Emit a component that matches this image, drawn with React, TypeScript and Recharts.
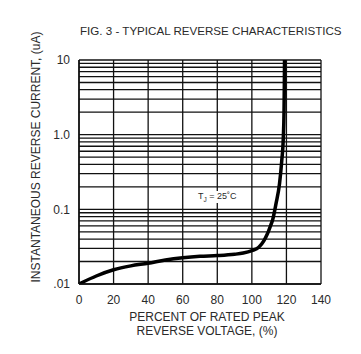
import { CartesianGrid, Line, LineChart, XAxis, YAxis } from "recharts";

// Percent of rated peak reverse voltage (x) vs reverse current in uA (y, log).
const VOLTAGE_PCT = [
  0, 10, 20, 30, 40, 50, 60, 70, 80, 90, 95, 100, 104, 107, 109, 111, 112,
  114, 116, 117.3, 118.2, 118.6, 118.8, 118.9,
];
const REVERSE_UA = [
  0.01, 0.0128, 0.0155, 0.0175, 0.019, 0.021, 0.0225, 0.0235, 0.024, 0.025,
  0.026, 0.028, 0.031, 0.038, 0.047, 0.062, 0.072, 0.12, 0.22, 0.45, 0.92, 2,
  5, 10,
];

const X_TICKS = [0, 20, 40, 60, 80, 100, 120, 140];
// log grid: 1..9 in every decade
const Y_TICKS = [
  0.01, 0.02, 0.03, 0.04, 0.05, 0.06, 0.07, 0.08, 0.09,
  0.1, 0.2, 0.3, 0.4, 0.5, 0.6, 0.7, 0.8, 0.9,
  1, 2, 3, 4, 5, 6, 7, 8, 9, 10,
];
const Y_LABELS: Record<string, string> = {
  "0.01": ".01",
  "0.1": "0.1",
  "1": "1.0",
  "10": "10",
};

const FONT = "'Liberation Sans', Arial, sans-serif";
const INK = "#2a2a2a";

const data = VOLTAGE_PCT.map((v, i) => ({ v, ir: REVERSE_UA[i] }));

export default function App() {
  return (
    <div
      style={{
        position: "absolute",
        left: 0,
        top: 0,
        width: 361,
        height: 354,
        background: "#fff",
        fontFamily: FONT,
        color: INK,
      }}
    >
      <div
        style={{
          position: "absolute",
          left: 80,
          top: 24,
          fontSize: 11.6,
          whiteSpace: "nowrap",
        }}
      >
        FIG. 3 - TYPICAL REVERSE CHARACTERISTICS
      </div>

      <div
        style={{
          position: "absolute",
          left: 36,
          top: 157,
          fontSize: 12,
          whiteSpace: "nowrap",
          transform: "translate(-50%, -50%) rotate(-90deg)",
        }}
      >
        INSTANTANEOUS REVERSE CURRENT, (uA)
      </div>

      <LineChart
        width={361}
        height={354}
        data={data}
        margin={{ top: 60, right: 40, bottom: 40, left: 49 }}
      >
        <CartesianGrid stroke="#111" strokeWidth={1.3} />
        <XAxis
          type="number"
          dataKey="v"
          domain={[0, 140]}
          ticks={X_TICKS}
          interval={0}
          tickLine={false}
          axisLine={{ stroke: "#111", strokeWidth: 1.5 }}
          tickMargin={5}
          tick={{ fontSize: 12, fill: INK, fontFamily: FONT }}
        />
        <YAxis
          type="number"
          scale="log"
          domain={[0.01, 10]}
          ticks={Y_TICKS}
          interval={0}
          width={30}
          tickLine={false}
          axisLine={{ stroke: "#111", strokeWidth: 1.5 }}
          tickMargin={3}
          tickFormatter={(t) => Y_LABELS[String(t)] ?? ""}
          tick={{ fontSize: 12, fill: INK, fontFamily: FONT }}
          allowDataOverflow
        />
        <Line
          type="monotone"
          dataKey="ir"
          stroke="#000"
          strokeWidth={3.5}
          dot={false}
          isAnimationActive={false}
        />
      </LineChart>

      <div
        style={{
          position: "absolute",
          left: 196,
          top: 191,
          fontSize: 9,
          whiteSpace: "nowrap",
          background: "#fff",
          padding: "0 2px",
        }}
      >
        T<sub style={{ fontSize: 6.5 }}>J</sub> = 25˚C
      </div>

      <div
        style={{
          position: "absolute",
          left: 207,
          top: 310,
          transform: "translateX(-50%)",
          fontSize: 12,
          lineHeight: "14px",
          textAlign: "center",
          whiteSpace: "nowrap",
        }}
      >
        PERCENT OF RATED PEAK
        <br />
        REVERSE VOLTAGE, (%)
      </div>
    </div>
  );
}
